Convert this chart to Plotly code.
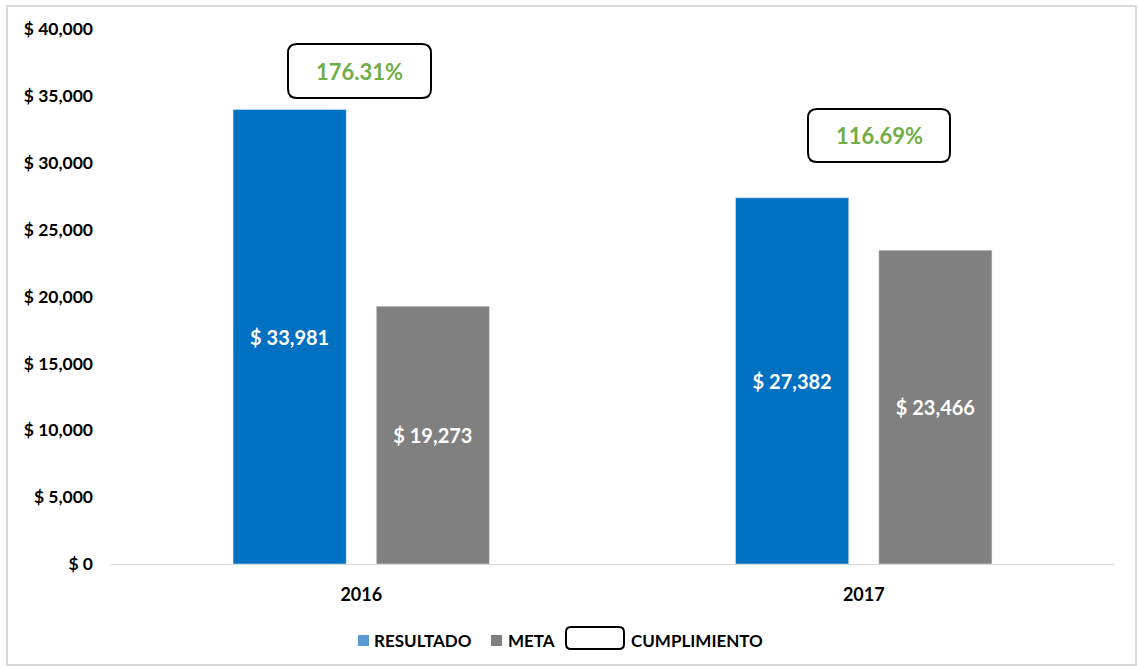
import plotly.graph_objects as go

# ---- data ----
years = ["2016", "2017"]
resultado = [33981, 27382]
meta = [19273, 23466]
cumplimiento = ["176.31%", "116.69%"]
legend_labels = ["RESULTADO", "META", "CUMPLIMIENTO"]
y_ticks = [0, 5000, 10000, 15000, 20000, 25000, 30000, 35000, 40000]

# ---- styling / geometry ----
W, H = 1138, 666
L, R, T, B = 110, 23, 29, 102
PW, PH = W - L - R, H - T - B
FONT = "Lato"
C_RES, C_META, C_GREEN = "#0070C0", "#808080", "#70AD47"


def px(x):
    return (x - L) / PW


def py(y):
    return (H - B - y) / PH


def rrect(x0, y0, x1, y1, r):
    # rounded rect path in paper coords, input pixels
    rx, ry = r / PW, r / PH
    a0, b1, a1, b0 = px(x0), py(y0), px(x1), py(y1)
    return (f"M {a0+rx},{b0} L {a1-rx},{b0} Q {a1},{b0} {a1},{b0+ry} "
            f"L {a1},{b1-ry} Q {a1},{b1} {a1-rx},{b1} L {a0+rx},{b1} "
            f"Q {a0},{b1} {a0},{b1-ry} L {a0},{b0+ry} Q {a0},{b0} {a0+rx},{b0} Z")


fig = go.Figure()
fig.add_trace(go.Bar(
    x=years, y=resultado, name=legend_labels[0], marker_color=C_RES,
    text=[f"$ {v:,}" for v in resultado], textposition="inside",
    insidetextanchor="middle", textangle=0,
    textfont=dict(family=FONT, size=20, color="white", weight="bold"),
))
fig.add_trace(go.Bar(
    x=years, y=meta, name=legend_labels[1], marker_color=C_META,
    text=[f"$ {v:,}" for v in meta], textposition="inside",
    insidetextanchor="middle", textangle=0,
    textfont=dict(family=FONT, size=20, color="white", weight="bold"),
))

shapes = []
annotations = []

# cumplimiento boxes (pixel boxes) and labels
boxes = [(288, 44, 431, 98), (808, 109, 950, 162)]
for (x0, y0, x1, y1), txt in zip(boxes, cumplimiento):
    shapes.append(dict(type="path", xref="paper", yref="paper",
                       path=rrect(x0, y0, x1, y1, 9),
                       line=dict(color="black", width=2), fillcolor="white"))
    annotations.append(dict(xref="paper", yref="paper",
                            x=px((x0 + x1) / 2), y=py((y0 + y1) / 2),
                            xanchor="center", yanchor="middle",
                            text=txt, showarrow=False,
                            font=dict(family=FONT, size=22, color=C_GREEN, weight="bold")))

# legend (manual)
shapes.append(dict(type="rect", xref="paper", yref="paper",
                   x0=px(358), x1=px(369), y0=py(646), y1=py(635),
                   fillcolor="#5B9BD5", line=dict(width=0)))
shapes.append(dict(type="rect", xref="paper", yref="paper",
                   x0=px(491), x1=px(502), y0=py(646), y1=py(635),
                   fillcolor=C_META, line=dict(width=0)))
shapes.append(dict(type="path", xref="paper", yref="paper",
                   path=rrect(566, 627, 624, 649, 5),
                   line=dict(color="black", width=2), fillcolor="white"))
for xl, t in [(372, legend_labels[0]), (506, legend_labels[1]), (629, legend_labels[2])]:
    annotations.append(dict(xref="paper", yref="paper", x=px(xl), y=py(640),
                            xanchor="left", yanchor="middle", text=t, showarrow=False,
                            font=dict(family=FONT, size=17, color="black", weight="bold")))

# outer border
shapes.append(dict(type="rect", xref="paper", yref="paper",
                   x0=px(7), x1=px(1136), y0=py(665), y1=py(6),
                   line=dict(color="#D9D9D9", width=2), layer="below"))

fig.update_layout(
    width=W, height=H,
    margin=dict(l=L, r=R, t=T, b=B),
    paper_bgcolor="white", plot_bgcolor="white",
    barmode="group", bargap=0.43, bargroupgap=0.21,
    showlegend=False,
    shapes=shapes, annotations=annotations,
    font=dict(family=FONT, color="black"),
)
fig.update_yaxes(range=[0, 40000], tickvals=y_ticks,
                 ticktext=[f"$ {v:,}" for v in y_ticks],
                 showgrid=False, zeroline=False, showline=False,
                 ticklabelstandoff=16,
                 tickfont=dict(family=FONT, size=17.5, color="black", weight="bold"))
fig.update_xaxes(showline=True, linecolor="#D9D9D9", linewidth=1,
                 showgrid=False, ticks="", ticklabelstandoff=14,
                 tickfont=dict(family=FONT, size=18, color="black", weight="bold"))

fig.write_html("out.html", config={"displayModeBar": False},
               post_script="document.body.style.margin='0';")
